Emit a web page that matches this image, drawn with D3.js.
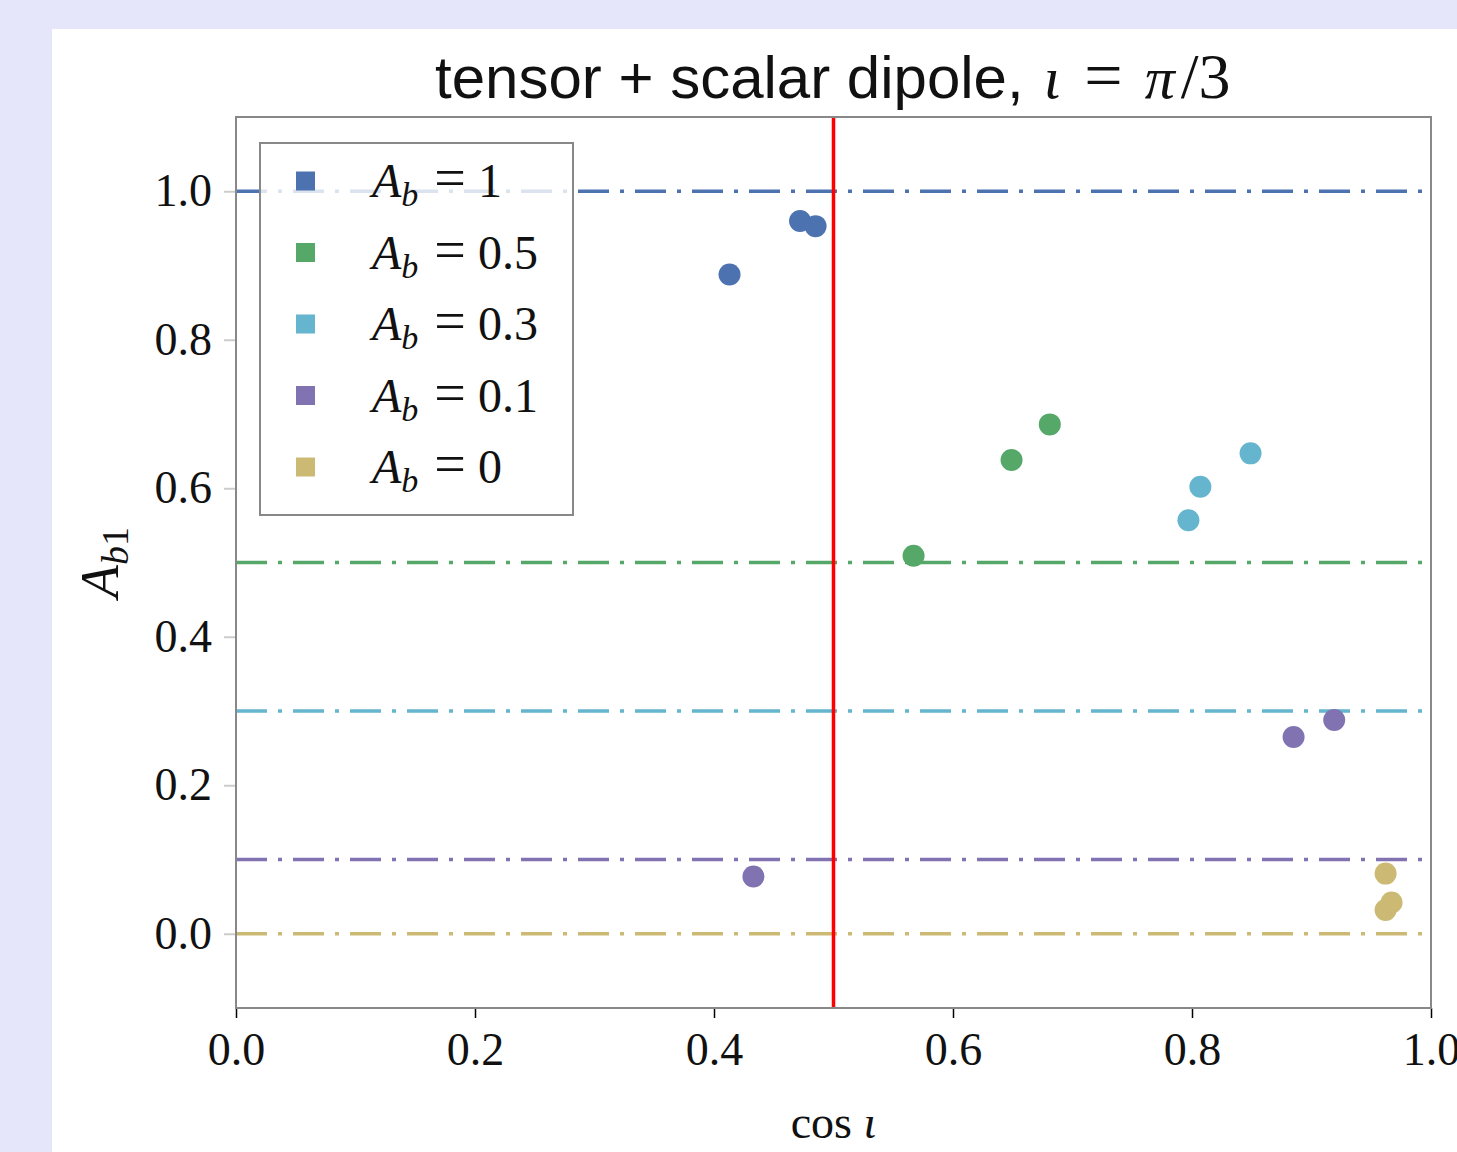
<!DOCTYPE html>
<html>
<head>
<meta charset="utf-8">
<script src="https://cdn.jsdelivr.net/npm/d3@7"></script>
<style>
  body { margin: 0; background: #e6e6fa; }
  svg { display: block; }
</style>
</head>
<body>
<div id="chart"></div>
<script>
// series: A_b levels and the fitted A_b1 points
const levelLabels = ['1', '0.5', '0.3', '0.1', '0']
const levels = [1, 0.5, 0.3, 0.1, 0]
const colors = ['#4c72b0', '#55a868', '#64b5cd', '#8172b2', '#ccb974']
const cosI = [
  [0.413, 0.472, 0.485],
  [0.567, 0.649, 0.681],
  [0.797, 0.807, 0.849],
  [0.433, 0.885, 0.919],
  [0.962, 0.962, 0.967]
]
const ab1 = [
  [0.888, 0.960, 0.953],
  [0.509, 0.638, 0.686],
  [0.557, 0.602, 0.647],
  [0.077, 0.265, 0.288],
  [0.081, 0.032, 0.042]
]
const xTicks = [0, 0.2, 0.4, 0.6, 0.8, 1.0]
const yTicks = [0, 0.2, 0.4, 0.6, 0.8, 1.0]
const cutoff = 0.5

const W = 1457, H = 1152
const plot = { left: 236, top: 117, right: 1431, bottom: 1008 }
const serif = '"Liberation Serif", "DejaVu Serif", serif'

const svg = d3.select('#chart').append('svg')
  .attr('width', W)
  .attr('height', H)

// white panel
svg.append('rect')
  .attr('x', 52).attr('y', 29)
  .attr('width', W - 52).attr('height', H - 29)
  .attr('fill', '#fff')

const x = d3.scaleLinear().domain([0, 1]).range([plot.left, plot.right])
const y = d3.scaleLinear().domain([-0.1, 1.1]).range([plot.bottom, plot.top])

// x axis
const xAxisG = svg.append('g')
  .attr('transform', `translate(0,${plot.bottom})`)
  .call(d3.axisBottom(x).tickValues(xTicks).tickFormat(d3.format('.1f')).tickSize(10).tickPadding(14))
xAxisG.select('.domain').remove()
xAxisG.selectAll('line').attr('stroke', '#000').attr('stroke-width', 1.5)
xAxisG.selectAll('text')
  .attr('font-family', serif)
  .attr('font-size', 46)
  .attr('fill', '#111')

// y axis
const yAxisG = svg.append('g')
  .attr('transform', `translate(${plot.left},0)`)
  .call(d3.axisLeft(y).tickValues(yTicks).tickFormat(d3.format('.1f')).tickSize(12).tickPadding(12))
yAxisG.select('.domain').remove()
yAxisG.selectAll('line').attr('stroke', '#ccc').attr('stroke-width', 2)
yAxisG.selectAll('text')
  .attr('font-family', serif)
  .attr('font-size', 46)
  .attr('fill', '#111')

// reference lines at each A_b
svg.append('g')
  .selectAll('line')
  .data(levels)
  .join('line')
  .attr('x1', plot.left)
  .attr('x2', plot.right)
  .attr('y1', d => y(d))
  .attr('y2', d => y(d))
  .attr('stroke', (d, i) => colors[i])
  .attr('stroke-width', 3.5)
  .attr('stroke-dasharray', '31,11,4,11')

// red vertical line
svg.append('line')
  .attr('x1', x(cutoff)).attr('x2', x(cutoff))
  .attr('y1', plot.top).attr('y2', plot.bottom)
  .attr('stroke', 'red')
  .attr('stroke-width', 3.5)

// points
const points = []
levels.forEach((lv, i) => {
  cosI[i].forEach((c, j) => points.push({ c, a: ab1[i][j], i }))
})
svg.append('g')
  .selectAll('circle')
  .data(points)
  .join('circle')
  .attr('cx', d => x(d.c))
  .attr('cy', d => y(d.a))
  .attr('r', 11)
  .attr('fill', d => colors[d.i])

// frame
svg.append('rect')
  .attr('x', plot.left).attr('y', plot.top)
  .attr('width', plot.right - plot.left)
  .attr('height', plot.bottom - plot.top)
  .attr('fill', 'none')
  .attr('stroke', '#888')
  .attr('stroke-width', 2)

// legend
const lg = svg.append('g')
lg.append('rect')
  .attr('x', 260).attr('y', 143)
  .attr('width', 313).attr('height', 372)
  .attr('fill', '#fff')
  .attr('fill-opacity', 0.8)
  .attr('stroke', '#888')
  .attr('stroke-width', 2)

const rows = lg.selectAll('g.row')
  .data(levelLabels)
  .join('g')
  .attr('class', 'row')
  .attr('transform', (d, i) => `translate(0,${181 + i * 71.5})`)
rows.append('rect')
  .attr('x', 296).attr('y', -9.5)
  .attr('width', 19).attr('height', 19)
  .attr('fill', (d, i) => colors[i])
const lt = rows.append('text')
  .attr('x', 372)
  .attr('y', 16)
  .attr('font-family', serif)
  .attr('font-size', 48)
  .attr('fill', '#111')
lt.append('tspan').attr('font-style', 'italic').text('A')
lt.append('tspan').attr('font-style', 'italic').attr('font-size', 34).attr('dy', 9).text('b')
lt.append('tspan').attr('dy', -9).attr('dx', 16).attr('font-size', 56).text('=')
lt.append('tspan').attr('dx', 12).text(d => d)

// title
const title = svg.append('text')
  .attr('x', 435)
  .attr('y', 98)
  .attr('font-size', 60)
  .attr('fill', '#111')
title.append('tspan').attr('font-family', '"Liberation Sans", Arial, sans-serif').text('tensor + scalar dipole,')
title.append('tspan').attr('font-family', serif).attr('font-style', 'italic').attr('dx', 20).text('ι')
title.append('tspan').attr('font-family', serif).attr('font-size', 68).attr('dx', 24).text('=')
title.append('tspan').attr('font-family', serif).attr('font-style', 'italic').attr('dx', 22).text('π')
title.append('tspan').attr('font-family', serif).attr('font-size', 64).attr('dx', 6).text('/3')

// x label
const xl = svg.append('text')
  .attr('x', x(0.5))
  .attr('y', 1138)
  .attr('text-anchor', 'middle')
  .attr('font-family', serif)
  .attr('font-size', 46)
  .attr('fill', '#111')
xl.append('tspan').text('cos ')
xl.append('tspan').attr('font-style', 'italic').text('ι')

// y label
const yl = svg.append('text')
  .attr('transform', `translate(118,${y(0.5)}) rotate(-90)`)
  .attr('text-anchor', 'middle')
  .attr('font-family', serif)
  .attr('font-size', 54)
  .attr('fill', '#111')
yl.append('tspan').attr('font-style', 'italic').text('A')
yl.append('tspan').attr('font-style', 'italic').attr('font-size', 38).attr('dy', 10).text('b')
yl.append('tspan').attr('font-size', 38).text('1')
</script>
</body>
</html>
